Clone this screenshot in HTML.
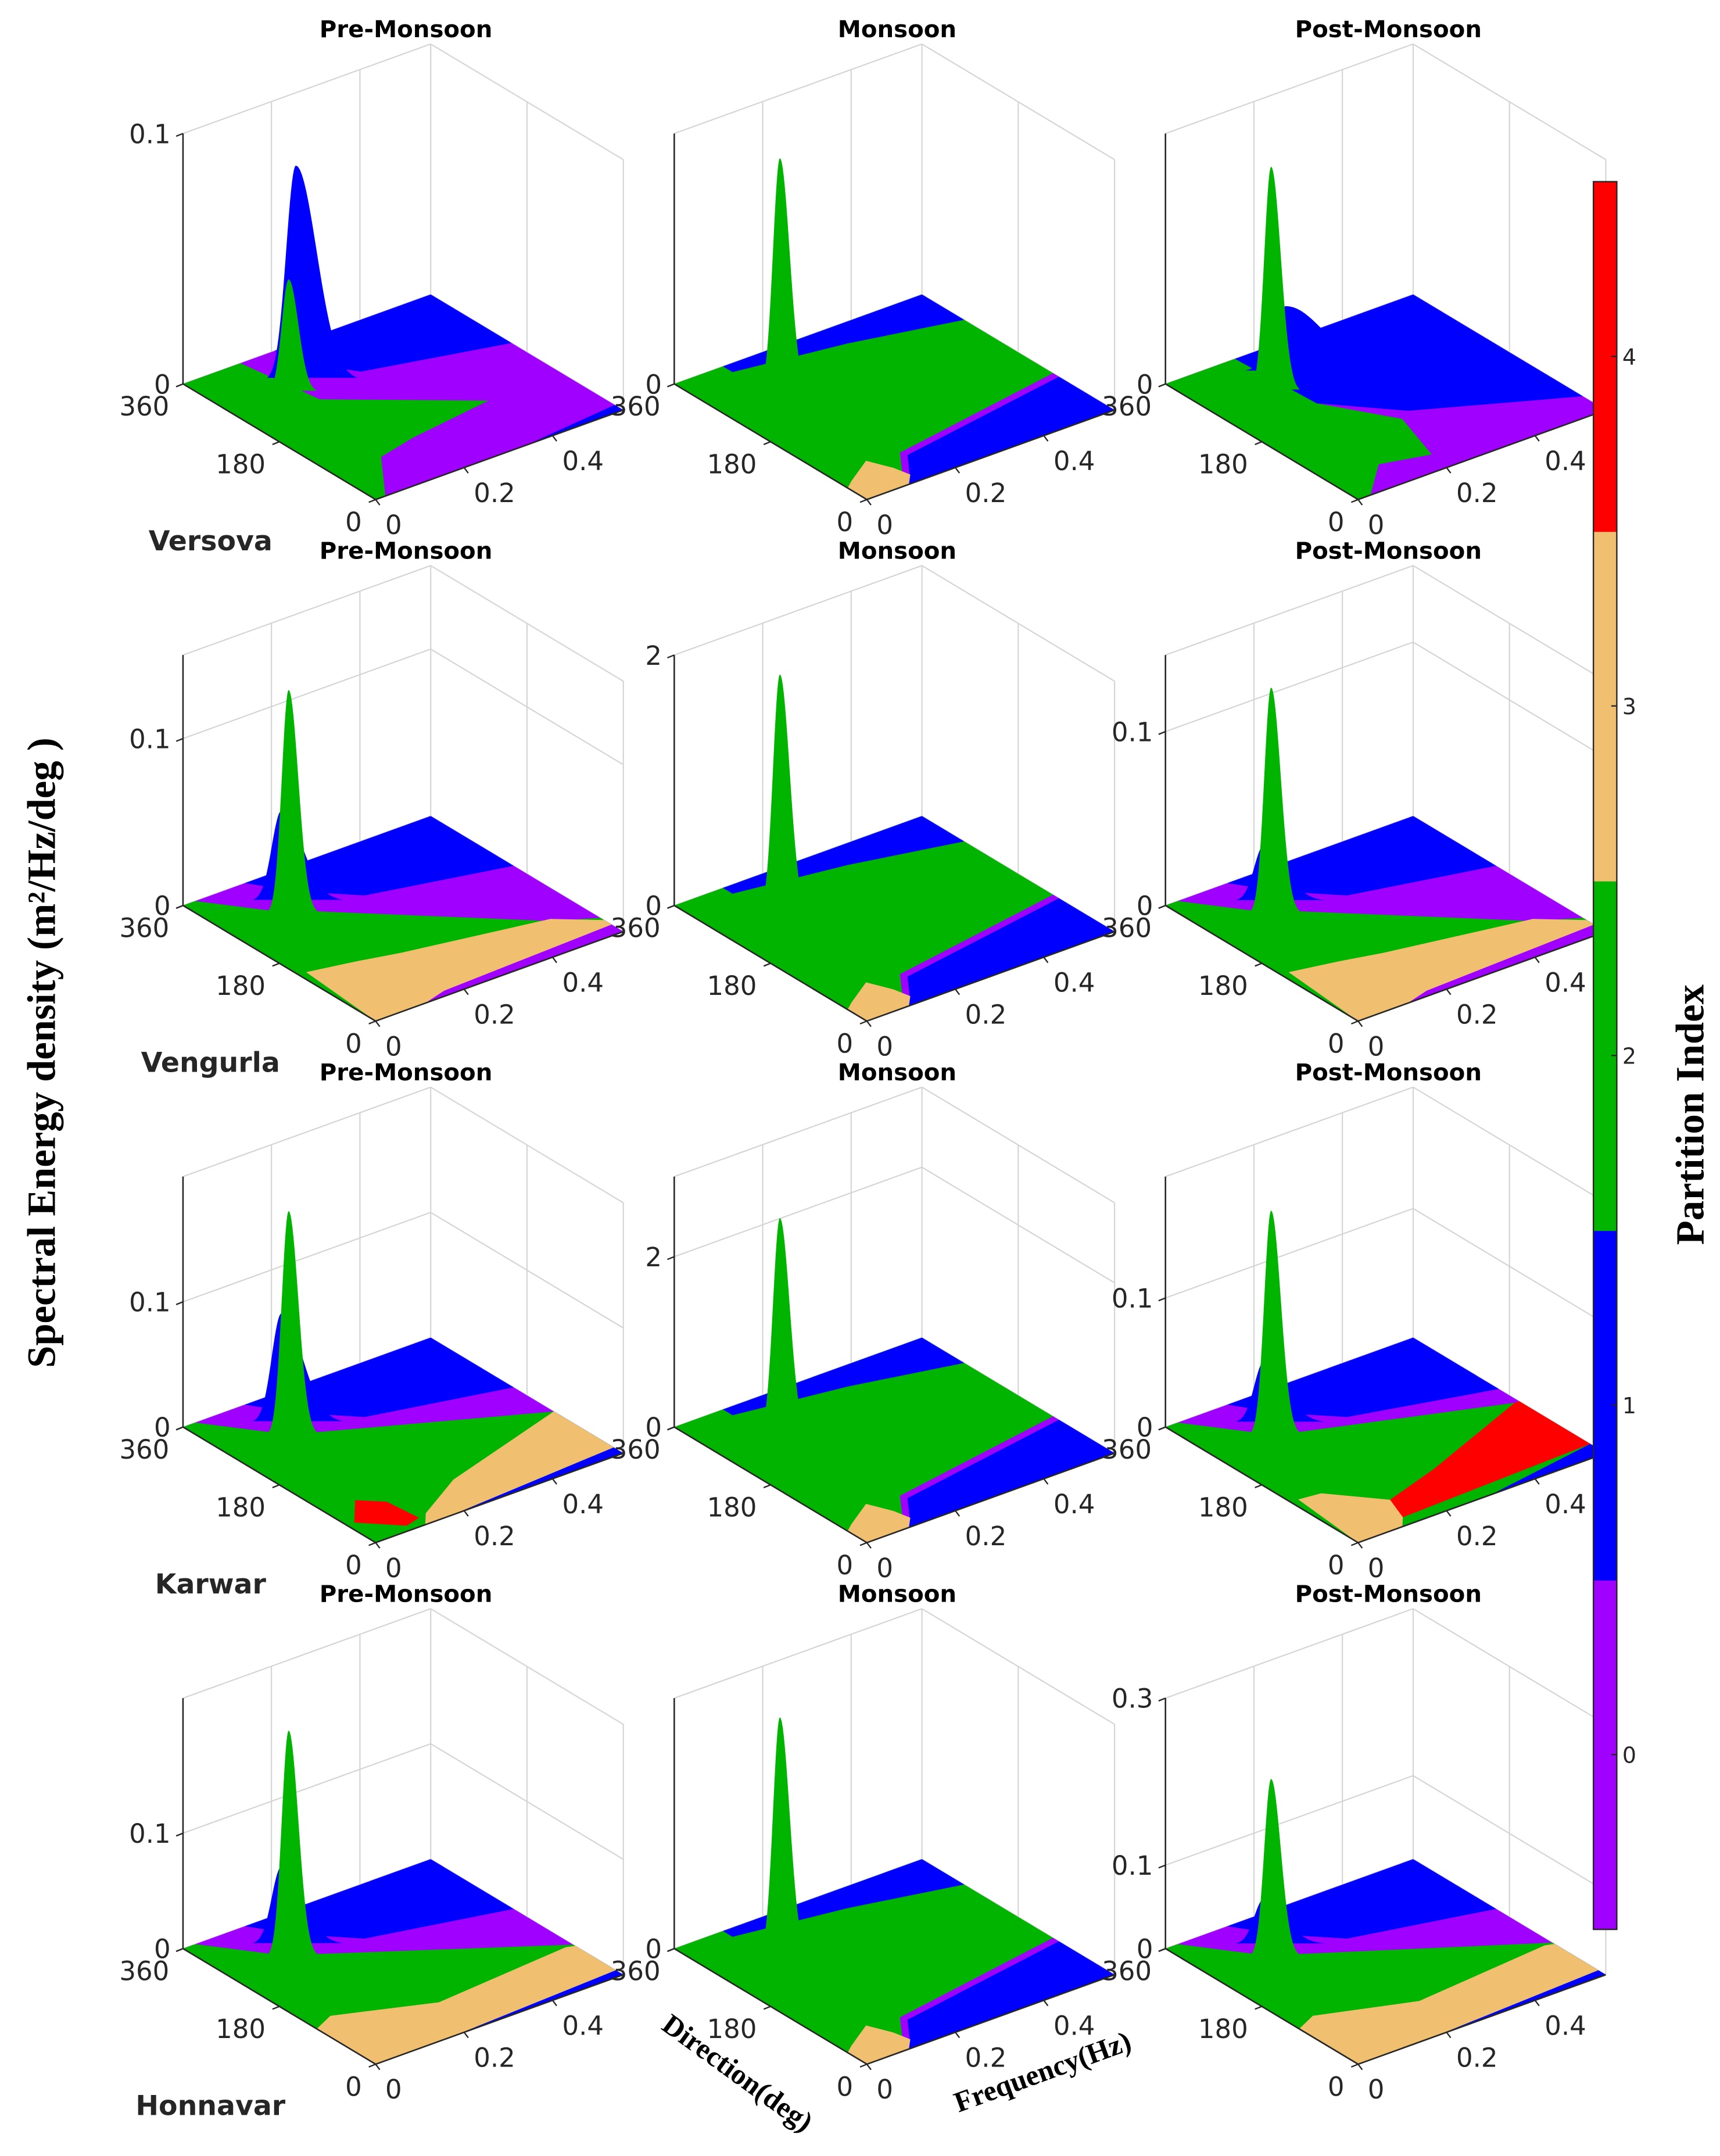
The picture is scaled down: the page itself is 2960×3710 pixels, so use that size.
<!DOCTYPE html>
<html><head><meta charset="utf-8"><style>
html,body{margin:0;padding:0;background:#fff}
svg{display:block}
text{font-family:"DejaVu Sans","Liberation Sans",sans-serif;fill:#262626}
</style></head><body>
<svg id="fig" xmlns="http://www.w3.org/2000/svg" width="2960" height="3710" viewBox="0 0 1250 1566.7" preserveAspectRatio="none">
<rect x="0" y="0" width="1250" height="1567" fill="#fff"/>
<g id="panels"></g>
<g id="colorbar"></g>
<text transform="translate(40,765) rotate(-90)" text-anchor="middle" style="font-family:'Liberation Serif',serif;font-weight:bold;font-size:29px;fill:#000">Spectral Energy density (m²/Hz/deg )</text>
<text transform="translate(1238,810) rotate(-90)" text-anchor="middle" style="font-family:'Liberation Serif',serif;font-weight:bold;font-size:29px;fill:#000">Partition Index</text>
<text transform="translate(532,1512) rotate(36)" text-anchor="middle" style="font-family:'Liberation Serif',serif;font-weight:bold;font-size:21px;fill:#000">Direction(deg)</text>
<text transform="translate(760,1512) rotate(-20)" text-anchor="middle" style="font-family:'Liberation Serif',serif;font-weight:bold;font-size:21px;fill:#000">Frequency(Hz)</text>
</svg>
<script>
const stations=['Versova','Vengurla','Karwar','Honnavar'];
const seasons=['Pre-Monsoon','Monsoon','Post-Monsoon'];
const partitionColors=['#a000ff','#0000ff','#00b400','#f0c070','#ff0000'];
const partitionTicks=[0,1,2,3,4];
const freqTicks=[0,0.2,0.4];
const dirTicks=[0,180,360];
const zTops=[[0.1,1,1],[0.15,2,0.144],[0.2,2.94,0.194],[0.217,1,0.3]];
const zTicks=[[[0,0.1],[0],[0]],[[0,0.1],[0,2],[0,0.1]],[[0,0.1],[0,2],[0,0.1]],[[0,0.1],[0],[0,0.1,0.3]]];
// base partition of each panel (row-major)
const baseParts=[0,2,0,0,2,0,0,2,0,0,2,0];
// regions: [partition, [[freqHz, dirDeg],...]]
const monsoonRegions=[
 [1,[[0.11,360],[0.11,342],[0.34,317],[0.56,281],[0.56,360]]],
 [0,[[0.084,0],[0.157,68],[0.56,115],[0.56,0]]],
 [1,[[0.095,0],[0.123,22],[0.162,58],[0.56,104],[0.56,0]]],
 [3,[[0,0],[0,36],[0.022,47],[0.09,76],[0.112,43],[0.12,18],[0.095,0]]]
];
const regions=[
 [[2,[[0,0],[0,360],[0.13,360],[0.157,234],[0.392,113],[0.198,94],[0.108,79],[0.022,0]]],
  [1,[[0.207,360],[0.235,302],[0.28,259],[0.56,209],[0.56,360]]],
  [1,[[0.34,0],[0.56,16],[0.56,0]]]],
 monsoonRegions,
 [[2,[[0,0],[0,360],[0.157,360],[0.168,216],[0.252,126],[0.21,36],[0.112,54],[0.028,0]]],
  [1,[[0.157,360],[0.168,216],[0.28,137],[0.56,43],[0.56,360]]]],
 [[2,[[0,0],[0,360],[0.028,360],[0.112,288],[0.168,259],[0.482,72],[0.56,43],[0.56,0]]],
  [3,[[0,0],[0.017,144],[0.112,130],[0.196,115],[0.487,76],[0.56,36],[0.56,0]]],
  [0,[[0.112,0],[0.168,11],[0.56,22],[0.56,0]]],
  [1,[[0.14,360],[0.196,306],[0.28,252],[0.56,205],[0.56,360]]]],
 monsoonRegions,
 [[2,[[0,0],[0,360],[0.028,360],[0.112,288],[0.168,259],[0.482,72],[0.56,43],[0.56,0]]],
  [3,[[0,0],[0.017,144],[0.112,130],[0.196,115],[0.487,76],[0.56,36],[0.56,0]]],
  [0,[[0.112,0],[0.168,11],[0.56,22],[0.56,0]]],
  [1,[[0.14,360],[0.196,306],[0.28,252],[0.56,205],[0.56,360]]]],
 [[2,[[0,0],[0,360],[0.028,360],[0.112,288],[0.168,259],[0.56,130],[0.56,0]]],
  [3,[[0.112,0],[0.14,22],[0.258,68],[0.56,130],[0.56,18],[0.168,0]]],
  [1,[[0.168,0],[0.56,18],[0.56,0]]],
  [4,[[0.017,54],[0.071,97],[0.112,72],[0.12,18],[0.084,11]]],
  [1,[[0.14,360],[0.196,306],[0.28,252],[0.56,205],[0.56,360]]]],
 monsoonRegions,
 [[2,[[0,0],[0,360],[0.028,360],[0.112,288],[0.168,259],[0.55,162],[0.56,162],[0.56,0]]],
  [1,[[0.3,0],[0.56,29],[0.56,0]]],
  [4,[[0.146,61],[0.28,90],[0.55,162],[0.56,162],[0.56,29],[0.123,18]]],
  [3,[[0,0],[0.017,126],[0.064,122],[0.146,61],[0.123,18],[0.1,0]]],
  [1,[[0.14,360],[0.196,306],[0.28,252],[0.56,200],[0.56,360]]]],
 [[2,[[0,0],[0,360],[0.028,360],[0.112,288],[0.168,259],[0.56,94],[0.56,0]]],
  [3,[[0,0],[0,110],[0.05,126],[0.235,76],[0.543,94],[0.56,90],[0.56,14],[0.168,0]]],
  [1,[[0.168,0],[0.56,14],[0.56,0]]],
  [1,[[0.14,360],[0.196,306],[0.28,252],[0.56,205],[0.56,360]]]],
 monsoonRegions,
 [[2,[[0,0],[0,360],[0.028,360],[0.112,288],[0.168,259],[0.56,100],[0.56,0]]],
  [3,[[0,0],[0,110],[0.05,126],[0.235,80],[0.543,100],[0.56,96],[0.56,14],[0.168,0]]],
  [1,[[0.168,0],[0.56,14],[0.56,0]]],
  [1,[[0.14,360],[0.196,306],[0.28,252],[0.56,205],[0.56,360]]]]
];
// peaks: [partition, freqHz, dirDeg, energy]
const peaks=[
 [[1,0.168,288,0.0857],[2,0.13,270,0.045]],
 [[2,0.13,270,0.934]],
 [[1,0.2,300,0.26],[2,0.13,270,0.9]],
 [[1,0.15,300,0.054],[2,0.13,270,0.134]],
 [[2,0.13,270,1.91]],
 [[1,0.15,300,0.032],[2,0.13,270,0.13]],
 [[1,0.15,300,0.087],[2,0.13,270,0.179]],
 [[2,0.13,270,2.55]],
 [[1,0.15,300,0.047],[2,0.13,270,0.174]],
 [[1,0.15,300,0.067],[2,0.13,270,0.196]],
 [[2,0.13,270,0.956]],
 [[1,0.15,300,0.054],[2,0.13,270,0.213]]
];
</script>
<script>
const NS='http://www.w3.org/2000/svg';
const FMAX=0.56,DMAX=360,BOXH=182,COLW=357,ROWH=379;
const root=document.getElementById('panels');
function mk(tag,attrs,parent){const e=document.createElementNS(NS,tag);for(const k in attrs)e.setAttribute(k,attrs[k]);parent.appendChild(e);return e;}
function proj(ox,oy,f,d,z,zt){const u=f/FMAX,v=d/DMAX;return [ox+273+u*180-v*140, oy+363-u*65-v*84-(z/zt)*BOXH];}
for(let r=0;r<4;r++){for(let c=0;c<3;c++){
  const idx=r*3+c, ox=c*COLW, oy=r*ROWH, zt=zTops[r][c];
  const g=mk('g',{},root);
  
  
  const P=(f,d,z)=>proj(ox,oy,f,d,z,zt);
  const line=(a,b,col,w,name)=>{const l=mk('line',{x1:a[0],y1:a[1],x2:b[0],y2:b[1],stroke:col,'stroke-width':w},g);return l;};
  // back walls grid
  const L0=P(0,DMAX,0),B0=P(FMAX,DMAX,0),R0=P(FMAX,0,0);
  const Lt=P(0,DMAX,zt),Bt=P(FMAX,DMAX,zt),Rt=P(FMAX,0,zt);
  line(Lt,Bt,'#d4d4d4',0.9,'grid-line');line(Bt,Rt,'#d4d4d4',0.9,'grid-line');
  line(B0,Bt,'#d4d4d4',0.9,'grid-line');line(R0,Rt,'#d4d4d4',0.9,'grid-line');
  line(L0,B0,'#d4d4d4',0.9,'grid-line');line(B0,R0,'#d4d4d4',0.9,'grid-line');
  freqTicks.forEach(f=>{if(f>0)line(P(f,DMAX,0),P(f,DMAX,zt),'#d4d4d4',0.9,'grid-line');});
  line(P(FMAX,180,0),P(FMAX,180,zt),'#d4d4d4',0.9,'grid-line');
  zTicks[r][c].forEach(z=>{if(z>0&&z<zt*0.99){line(P(0,DMAX,z),P(FMAX,DMAX,z),'#d4d4d4',0.9,'grid-line');line(P(FMAX,DMAX,z),P(FMAX,0,z),'#d4d4d4',0.9,'grid-line');}});
  // floor base
  const base=mk('polygon',{points:[P(0,0,0),P(0,DMAX,0),P(FMAX,DMAX,0),P(FMAX,0,0)].map(p=>p.join(',')).join(' '),fill:partitionColors[baseParts[idx]]},g);
  
  
  regions[idx].forEach(reg=>{
    const pg=mk('polygon',{points:reg[1].map(q=>P(q[0],q[1],0).join(',')).join(' '),fill:partitionColors[reg[0]]},g);
    
    
  });
  // peaks
  peaks[idx].forEach(pk=>{
    const b=P(pk[1],pk[2],0), top=P(pk[1],pk[2],pk[3]);
    const H=b[1]-top[1];
    const wide=pk[0]===1;
    const sl=wide?(H>45&&c===2&&r===0?10:7):5, sr=wide?(c===2&&r===0?28:15):7;
    const pts=[];const N=30;
    for(let i=-N;i<=N;i++){const t=i/N*3;const s=t<0?sl:sr;pts.push([b[0]+t*s,b[1]-H*Math.exp(-t*t/2)]);}
    const pp=mk('polygon',{points:pts.map(p=>p.join(',')).join(' '),fill:partitionColors[pk[0]]},g);
    
    
  });
  // axes
  const F0=P(0,0,0);
  line(L0,Lt,'#262626',1.1,'z-axis');
  line(L0,F0,'#262626',1.1,'direction-axis');
  line(F0,R0,'#262626',1.1,'frequency-axis');
  zTicks[r][c].forEach(z=>{const p=P(0,DMAX,z);line(p,[p[0]-5,p[1]+2],'#262626',1,'z-tick');
    const t=mk('text',{x:p[0]-9,y:p[1]+7,'text-anchor':'end','font-size':19},g);t.textContent=String(z);
    });
  dirTicks.forEach(d=>{const p=P(0,d,0);line(p,[p[0]-5,p[1]+2],'#262626',1,'direction-tick');
    const t=mk('text',{x:p[0]-10,y:p[1]+23,'text-anchor':'end','font-size':19},g);t.textContent=String(d);
    });
  freqTicks.forEach(f=>{const p=P(f,0,0);line(p,[p[0]+3,p[1]+4],'#262626',1,'frequency-tick');
    const t=mk('text',{x:p[0]+7,y:p[1]+25,'text-anchor':'start','font-size':19},g);t.textContent=String(f);
    });
  const tt=mk('text',{x:295+ox,y:27+oy,'text-anchor':'middle','font-size':17,'font-weight':'bold',style:'fill:#000'},g);
  tt.textContent=seasons[c];
  
  
  if(c===0){const st=mk('text',{x:153,y:400+oy,'text-anchor':'middle','font-size':20,'font-weight':'bold'},g);st.textContent=stations[r];
    }
}}
// colorbar
const cb=document.getElementById('colorbar');
const cbTop=132,cbBot=1402,cbX=1158,cbW=17;
const segH=(cbBot-cbTop)/partitionTicks.length;
partitionTicks.forEach((p,i)=>{
  const y=cbBot-(i+1)*segH;
  const rc=mk('rect',{x:cbX,y:y,width:cbW,height:segH+0.5,fill:partitionColors[p]},cb);
  
  
  const ty=y+segH/2;
  mk('line',{x1:cbX+cbW-4,y1:ty,x2:cbX+cbW,y2:ty,stroke:'#262626','stroke-width':1},cb);
  const t=mk('text',{x:cbX+cbW+4,y:ty+6,'font-size':16},cb);t.textContent=String(p);
  
  
});
mk('rect',{x:cbX,y:cbTop,width:cbW,height:cbBot-cbTop,fill:'none',stroke:'#262626','stroke-width':1},cb);
</script>
</body></html>
